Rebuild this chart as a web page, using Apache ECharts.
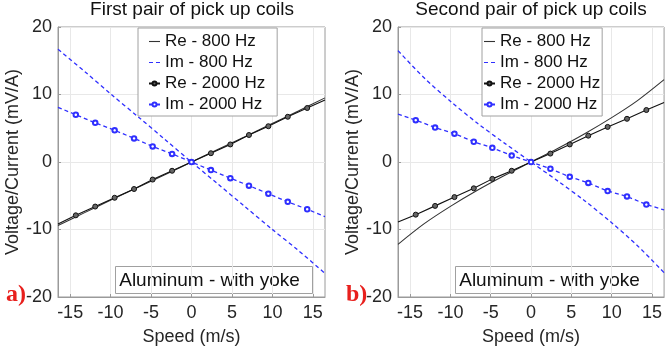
<!DOCTYPE html>
<html>
<head>
<meta charset="utf-8">
<script src="https://cdn.jsdelivr.net/npm/echarts@6/dist/echarts.min.js"></script>
<style>
  html, body { margin: 0; padding: 0; background: #fff; }
  #chart { width: 665px; height: 354px; }
</style>
</head>
<body>
<div id="chart"></div>
<script>
// speed samples (m/s)
const speedLine = [-16.5, -13.2, -9.9, -6.6, -3.3, 0, 3.3, 6.6, 9.9, 13.2, 16.5]
const speedMarks = [-16.5, -14.3, -11.9, -9.5, -7.1, -4.8, -2.4, 0, 2.4, 4.8, 7.1, 9.5, 11.9, 14.3, 16.5]
const xTicks = [-15, -10, -5, 0, 5, 10, 15]

// a) first pair of pick up coils
const aRe800 = [-9.4, -7.5, -5.6, -3.75, -1.9, 0, 1.9, 3.75, 5.65, 7.55, 9.5]
const aIm800 = [16.7, 13.4, 10.0, 6.7, 3.35, 0, -3.3, -6.6, -9.9, -13.1, -16.5]
const aRe2000 = [-9.2, -7.9, -6.6, -5.3, -4.0, -2.6, -1.3, 0, 1.3, 2.6, 4.0, 5.3, 6.7, 8.0, 9.2]
const aIm2000 = [8.1, 7.0, 5.8, 4.7, 3.5, 2.3, 1.2, 0, -1.2, -2.4, -3.5, -4.7, -5.9, -7.0, -8.1]

// b) second pair of pick up coils
const bRe800 = [-12.2, -9.1, -6.5, -4.15, -2.0, 0, 2.0, 4.15, 6.5, 9.1, 12.2]
const bIm800 = [16.5, 12.4, 8.9, 5.7, 2.8, 0, -2.8, -5.7, -8.9, -12.4, -16.4]
const bRe2000 = [-8.9, -7.8, -6.5, -5.2, -3.9, -2.5, -1.3, 0, 1.25, 2.6, 3.9, 5.2, 6.4, 7.7, 8.8]
const bIm2000 = [7.1, 6.2, 5.1, 4.2, 3.0, 2.1, 0.95, 0, -1.0, -2.2, -3.1, -4.3, -5.1, -6.3, -7.1]

const names = ['Re - 800 Hz', 'Im - 800 Hz', 'Re - 2000 Hz', 'Im - 2000 Hz']
const font = 'Liberation Sans, Arial, sans-serif'
const blue = '#2f2fff'
const dark = '#262626'

function pairs(xs, ys) {
    return xs.map((x, i) => [x, ys[i]])
}
// the line runs to the plot edge, markers only on measured points
function marked(xs, ys) {
    return xs.map((x, i) => {
        const item = { value: [x, ys[i]] }
        if (i === 0 || i === xs.length - 1) item.symbol = 'none'
        return item
    })
}

function panelSeries(idx, re800, im800, re2000, im2000) {
    return [
        {
            name: names[0], type: 'line', xAxisIndex: idx, yAxisIndex: idx,
            data: pairs(speedLine, re800), smooth: 0.3, symbol: 'none',
            lineStyle: { color: '#333', width: 1.1 }, itemStyle: { color: '#333' }
        },
        {
            name: names[1], type: 'line', xAxisIndex: idx, yAxisIndex: idx,
            data: pairs(speedLine, im800), smooth: 0.3, symbol: 'none',
            lineStyle: { color: blue, width: 1.3, type: [4, 3] }, itemStyle: { color: blue }
        },
        {
            name: names[2], type: 'line', xAxisIndex: idx, yAxisIndex: idx,
            data: marked(speedMarks, re2000), symbol: 'circle', symbolSize: 5,
            lineStyle: { color: '#111', width: 1.1 },
            itemStyle: { color: '#666', borderColor: '#111', borderWidth: 1 }
        },
        {
            name: names[3], type: 'line', xAxisIndex: idx, yAxisIndex: idx,
            data: marked(speedMarks, im2000), symbol: 'emptyCircle', symbolSize: 4.5,
            lineStyle: { color: blue, width: 1.3, type: [4, 3] },
            itemStyle: { color: blue, borderWidth: 1.1 }
        }
    ]
}

function xAxis(idx) {
    return {
        type: 'value', gridIndex: idx, min: -16.5, max: 16.5,
        name: 'Speed (m/s)', nameLocation: 'middle', nameGap: 31,
        nameTextStyle: { fontFamily: font, fontSize: 18, color: dark },
        axisLine: { onZero: false, lineStyle: { color: '#9a9a9a' } },
        axisTick: { inside: true, length: 3, customValues: xTicks, lineStyle: { color: '#9a9a9a' } },
        axisLabel: { customValues: xTicks, fontFamily: font, fontSize: 18, color: dark, margin: 7 },
        splitLine: { show: true, lineStyle: { color: '#e8e8e8' } }
    }
}

function yAxis(idx) {
    return {
        type: 'value', gridIndex: idx, min: -20, max: 20, interval: 10,
        name: 'Voltage/Current (mV/A)', nameLocation: 'middle', nameGap: 36,
        nameTextStyle: { fontFamily: font, fontSize: 18, color: dark },
        axisLine: { show: true, onZero: false, lineStyle: { color: '#9a9a9a' } },
        axisTick: { show: true, inside: true, length: 3, lineStyle: { color: '#9a9a9a' } },
        axisLabel: { fontFamily: font, fontSize: 18, color: dark, margin: 6 },
        splitLine: { show: true, lineStyle: { color: '#e8e8e8' } }
    }
}

const solidIcon = 'path://M0,0L10,0L10,1L0,1Z'
const dashIcon = 'path://M0,0h4v1h-4zM7,0h4v1h-4z'

function legend(left, padding) {
    return {
        data: [
            { name: names[0], icon: solidIcon },
            { name: names[1], icon: dashIcon },
            { name: names[2] },
            { name: names[3] }
        ],
        orient: 'vertical', left: left, top: 28,
        itemWidth: 11, itemHeight: 5, itemGap: 4,
        padding: padding,
        borderColor: '#a0a0a0', borderWidth: 1, backgroundColor: '#fff',
        textStyle: { fontFamily: font, fontSize: 17, color: '#111' },
        selectedMode: false
    }
}

function noteBox(x) {
    return {
        type: 'group', left: x, top: 266, z: 100,
        children: [
            { type: 'rect', shape: { x: 0, y: 0, width: 197, height: 27 },
              style: { fill: '#fff', stroke: '#a0a0a0', lineWidth: 1 } },
            { type: 'text', x: 94, y: 14,
              style: { text: 'Aluminum - with yoke', font: '19px ' + font, fill: '#111',
                       align: 'center', verticalAlign: 'middle' } }
        ]
    }
}

function panelTag(text, x) {
    return {
        type: 'text', left: x, top: 283, z: 100,
        style: { text: text, font: 'bold 24px Liberation Serif, Times New Roman, serif', fill: '#e8201d' }
    }
}

const chart = echarts.init(document.getElementById('chart'))
chart.setOption({
    backgroundColor: '#fff',
    animation: false,
    title: [
        { text: 'First pair of pick up coils', left: 192, top: 0, padding: 0, textAlign: 'center',
          textStyle: { fontFamily: font, fontSize: 19, fontWeight: 'normal', color: '#111' } },
        { text: 'Second pair of pick up coils', left: 531, top: 0, padding: 0, textAlign: 'center',
          textStyle: { fontFamily: font, fontSize: 19, fontWeight: 'normal', color: '#111' } }
    ],
    grid: [
        { left: 58, top: 27, width: 267, height: 270, show: true, borderColor: '#9a9a9a', borderWidth: 1 },
        { left: 398, top: 27, width: 267, height: 270, show: true, borderColor: '#9a9a9a', borderWidth: 1 }
    ],
    xAxis: [xAxis(0), xAxis(1)],
    yAxis: [yAxis(0), yAxis(1)],
    legend: [legend(138, [5, 12, 3, 10]), legend(482, [5, 2, 3, 1])],
    graphic: [noteBox(115), noteBox(455), panelTag('a)', 6), panelTag('b)', 346)],
    series: [
        ...panelSeries(0, aRe800, aIm800, aRe2000, aIm2000),
        ...panelSeries(1, bRe800, bIm800, bRe2000, bIm2000)
    ]
})
</script>
</body>
</html>
